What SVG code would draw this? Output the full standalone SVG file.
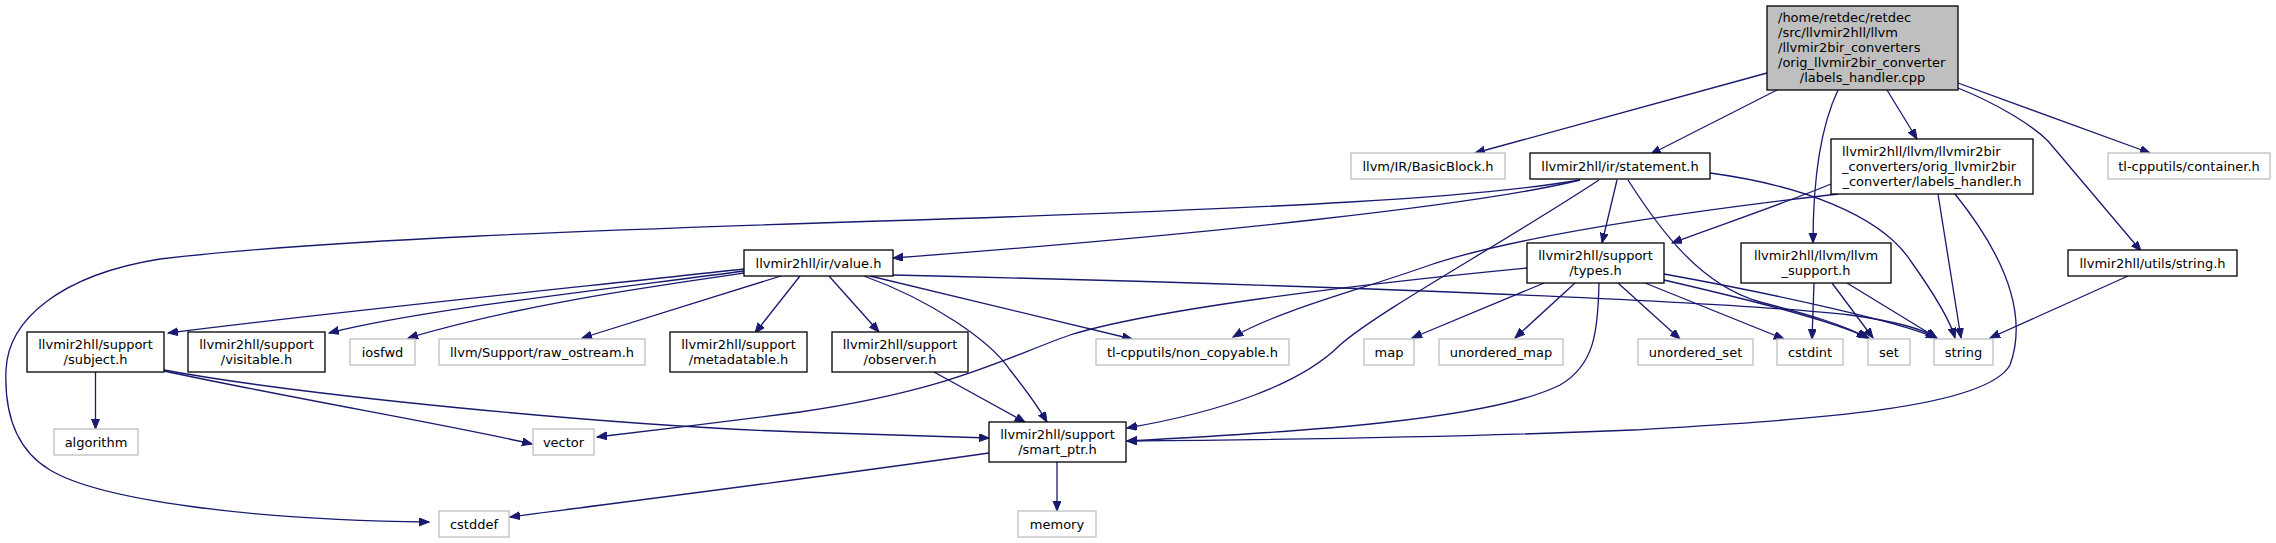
<svg xmlns="http://www.w3.org/2000/svg" width="2276" height="543" viewBox="0 0 2276 543">
<style>
.bx{fill:#ffffff;stroke:#000000;stroke-width:1.3}
.gy{fill:#ffffff;stroke:#bfbfbf;stroke-width:1.3}
.rt{fill:#bfbfbf;stroke:#000000;stroke-width:1.3}
text{font-family:"DejaVu Sans","Liberation Sans",sans-serif;font-size:13px;fill:#000000}
.c{text-anchor:middle}
.s{text-anchor:start}
.e path{fill:none;stroke:#191970;stroke-width:1.3;marker-end:url(#ah)}
</style>
<defs>
<marker id="ah" markerUnits="userSpaceOnUse" markerWidth="11" markerHeight="9" refX="10" refY="4" orient="auto">
<path d="M0,0 L10,4 L0,8 z" fill="#191970" stroke="#191970" stroke-width="1"/>
</marker>
</defs>
<rect width="2276" height="543" fill="#ffffff"/>
<g id="edges" class="e">
<path d="M1767,73 L1475,153"/>
<path d="M1777,90 L1651,154"/>
<path d="M1838,90 C1820,128 1813,180 1813,243"/>
<path d="M1887,90 L1917,139"/>
<path d="M1958,83 L2150,153"/>
<path d="M1958,88 C2000,105 2033,126 2048,141 L2141,251"/>
<path d="M1580,180 C1480,197 1300,208 880,221 C600,230 320,240 160,259 C60,275 8,320 6,370 C4,420 20,452 50,470 C100,500 250,520 429,522"/>
<path d="M1580,180 C1480,205 1200,235 893,258"/>
<path d="M1617,180 L1602,243"/>
<path d="M1599,180 C1500,245 1380,310 1340,345 C1300,385 1220,412 1127,428"/>
<path d="M1628,180 C1660,230 1700,285 1760,302 C1810,315 1845,325 1867,338"/>
<path d="M1710,173 C1800,185 1880,215 1910,260 C1935,295 1950,320 1955,338"/>
<path d="M1831,184 C1780,205 1720,225 1672,243"/>
<path d="M1838,194 C1700,210 1520,235 1430,265 C1360,290 1280,310 1233,337"/>
<path d="M1938,194 L1961,338"/>
<path d="M1955,194 C2000,250 2030,310 2010,365 C1985,410 1800,420 1633,430 C1450,438 1250,440 1127,441"/>
<path d="M1527,268 C1350,285 1150,310 1070,335 C1000,360 950,390 800,412 C700,425 640,432 597,437"/>
<path d="M1544,283 L1412,338"/>
<path d="M1575,283 L1515,338"/>
<path d="M1618,283 L1680,339"/>
<path d="M1645,283 L1784,339"/>
<path d="M1664,280 C1750,300 1830,320 1869,338"/>
<path d="M1664,274 C1780,295 1900,322 1936,338"/>
<path d="M1599,283 C1598,330 1595,365 1560,385 C1490,420 1300,432 1127,441"/>
<path d="M744,269 C600,285 350,310 168,333"/>
<path d="M744,271 C600,290 420,310 329,333"/>
<path d="M744,273 C640,288 520,305 408,338"/>
<path d="M781,276 L582,338"/>
<path d="M800,276 L755,333"/>
<path d="M829,276 L879,332"/>
<path d="M864,276 C930,300 990,340 1010,370 C1030,395 1040,410 1047,422"/>
<path d="M870,276 L1132,339"/>
<path d="M893,275 C1200,282 1700,298 1850,315 C1900,322 1925,330 1936,338"/>
<path d="M1814,283 L1812,339"/>
<path d="M1832,283 L1873,338"/>
<path d="M1847,283 L1937,338"/>
<path d="M2128,276 L1990,338"/>
<path d="M95.5,372 L95.5,429"/>
<path d="M164,371 C300,400 450,425 532,444"/>
<path d="M164,370 C300,395 600,425 800,432 C880,434 940,436 989,438"/>
<path d="M934,372 L1025,422"/>
<path d="M989,453 C800,480 600,505 510,517"/>
<path d="M1057,462 L1057,511"/>
</g>
<g id="root"><rect class="rt" x="1767" y="6" width="191" height="84"/>
<text class="s" x="1778" y="22.1">/home/retdec/retdec</text>
<text class="s" x="1778" y="37.1">/src/llvmir2hll/llvm</text>
<text class="s" x="1778" y="52.1">/llvmir2bir_converters</text>
<text class="s" x="1778" y="67.1">/orig_llvmir2bir_converter</text>
<text class="c" x="1862.5" y="82.1">/labels_handler.cpp</text></g>
<g id="basicblock"><rect class="gy" x="1351" y="153" width="154" height="26"/><text class="c" x="1428" y="170.6">llvm/IR/BasicBlock.h</text></g>
<g id="statement"><rect class="bx" x="1530" y="153" width="180" height="26"/><text class="c" x="1620" y="170.6">llvmir2hll/ir/statement.h</text></g>
<g id="labelsh"><rect class="bx" x="1831" y="139" width="202" height="55"/>
<text class="s" x="1842" y="156.1">llvmir2hll/llvm/llvmir2bir</text>
<text class="s" x="1842" y="171.1">_converters/orig_llvmir2bir</text>
<text class="c" x="1932" y="186.1">_converter/labels_handler.h</text></g>
<g id="container"><rect class="gy" x="2108" y="153" width="162" height="26"/><text class="c" x="2189" y="170.6">tl-cpputils/container.h</text></g>
<g id="value"><rect class="bx" x="744" y="250" width="149" height="26"/><text class="c" x="818.5" y="267.6">llvmir2hll/ir/value.h</text></g>
<g id="types"><rect class="bx" x="1527" y="243" width="137" height="40"/><text class="c" x="1595.5" y="260.1">llvmir2hll/support</text><text class="c" x="1595.5" y="275.1">/types.h</text></g>
<g id="llvmsupport"><rect class="bx" x="1741" y="243" width="150" height="40"/><text class="c" x="1816" y="260.1">llvmir2hll/llvm/llvm</text><text class="c" x="1816" y="275.1">_support.h</text></g>
<g id="utilsstring"><rect class="bx" x="2068" y="250" width="169" height="26"/><text class="c" x="2152.5" y="267.6">llvmir2hll/utils/string.h</text></g>
<g id="subject"><rect class="bx" x="27" y="332" width="137" height="40"/><text class="c" x="95.5" y="349.1">llvmir2hll/support</text><text class="c" x="95.5" y="364.1">/subject.h</text></g>
<g id="visitable"><rect class="bx" x="188" y="332" width="137" height="40"/><text class="c" x="256.5" y="349.1">llvmir2hll/support</text><text class="c" x="256.5" y="364.1">/visitable.h</text></g>
<g id="iosfwd"><rect class="gy" x="350" y="339" width="65" height="26"/><text class="c" x="382.5" y="356.6">iosfwd</text></g>
<g id="rawostream"><rect class="gy" x="439" y="339" width="206" height="26"/><text class="c" x="542" y="356.6">llvm/Support/raw_ostream.h</text></g>
<g id="metadatable"><rect class="bx" x="670" y="332" width="137" height="40"/><text class="c" x="738.5" y="349.1">llvmir2hll/support</text><text class="c" x="738.5" y="364.1">/metadatable.h</text></g>
<g id="observer"><rect class="bx" x="832" y="332" width="136" height="40"/><text class="c" x="900" y="349.1">llvmir2hll/support</text><text class="c" x="900" y="364.1">/observer.h</text></g>
<g id="noncopyable"><rect class="gy" x="1096" y="339" width="193" height="26"/><text class="c" x="1192.5" y="356.6">tl-cpputils/non_copyable.h</text></g>
<g id="map"><rect class="gy" x="1364" y="339" width="50" height="26"/><text class="c" x="1389" y="356.6">map</text></g>
<g id="unorderedmap"><rect class="gy" x="1439" y="339" width="124" height="26"/><text class="c" x="1501" y="356.6">unordered_map</text></g>
<g id="unorderedset"><rect class="gy" x="1638" y="339" width="115" height="26"/><text class="c" x="1695.5" y="356.6">unordered_set</text></g>
<g id="cstdint"><rect class="gy" x="1777" y="339" width="66" height="26"/><text class="c" x="1810" y="356.6">cstdint</text></g>
<g id="set"><rect class="gy" x="1868" y="339" width="42" height="26"/><text class="c" x="1889" y="356.6">set</text></g>
<g id="string"><rect class="gy" x="1934" y="339" width="59" height="26"/><text class="c" x="1963.5" y="356.6">string</text></g>
<g id="algorithm"><rect class="gy" x="54" y="429" width="84" height="26"/><text class="c" x="96" y="446.6">algorithm</text></g>
<g id="vector"><rect class="gy" x="533" y="429" width="61" height="26"/><text class="c" x="563.5" y="446.6">vector</text></g>
<g id="smartptr"><rect class="bx" x="989" y="422" width="137" height="40"/><text class="c" x="1057.5" y="439.1">llvmir2hll/support</text><text class="c" x="1057.5" y="454.1">/smart_ptr.h</text></g>
<g id="cstddef"><rect class="gy" x="439" y="511" width="70" height="26"/><text class="c" x="474" y="528.6">cstddef</text></g>
<g id="memory"><rect class="gy" x="1018" y="511" width="78" height="26"/><text class="c" x="1057" y="528.6">memory</text></g>
</svg>
